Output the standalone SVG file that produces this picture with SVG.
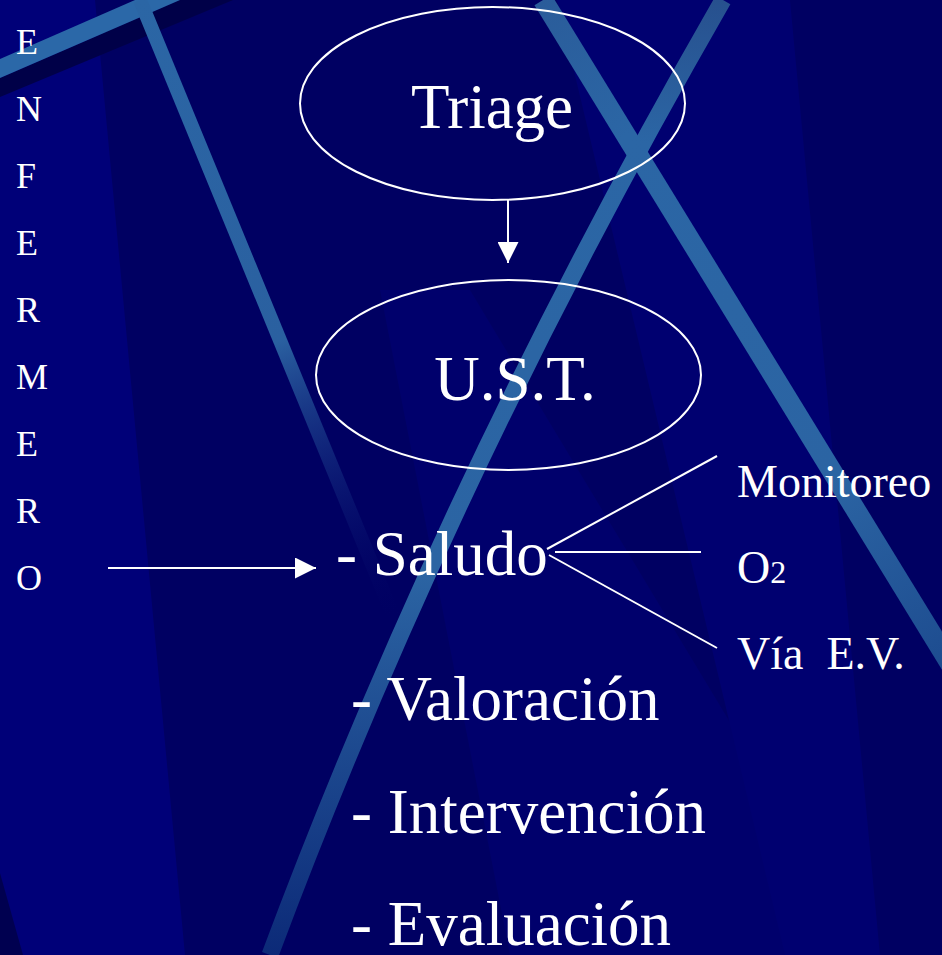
<svg xmlns="http://www.w3.org/2000/svg" width="942" height="955" viewBox="0 0 942 955">
<defs>
<style>
text{fill:#ffffff}
.big{font-size:63px}
.mid{font-size:46px}
.v{font-size:36px}
.ln{stroke:#ffffff;stroke-width:2;fill:none}
.node{stroke:#ffffff;stroke-width:2;fill:none}
.stripe{fill:none;stroke-linecap:butt}
</style>
<marker id="ah" markerUnits="userSpaceOnUse" markerWidth="21" markerHeight="21" refX="10" refY="5" orient="auto" viewBox="0 0 10 10">
<path d="M0,0 L10,5 L0,10 Z" fill="#ffffff"/>
</marker>
<linearGradient id="g3" gradientUnits="userSpaceOnUse" x1="0" y1="0" x2="0" y2="955">
<stop offset="0" stop-color="#27508e"/>
<stop offset="0.15" stop-color="#2b66a5"/>
<stop offset="0.6" stop-color="#2b64a3"/>
<stop offset="1" stop-color="#0c2a78"/>
</linearGradient>
<linearGradient id="g4" gradientUnits="userSpaceOnUse" x1="543" y1="0" x2="960" y2="680">
<stop offset="0" stop-color="#2a5c9a"/>
<stop offset="0.2" stop-color="#2b66a5"/>
<stop offset="0.7" stop-color="#2b64a3"/>
<stop offset="1" stop-color="#1c4a8e"/>
</linearGradient>
<linearGradient id="g2" gradientUnits="userSpaceOnUse" x1="140" y1="0" x2="395" y2="620">
<stop offset="0" stop-color="#2b66a5"/>
<stop offset="0.55" stop-color="#2a60a0"/>
<stop offset="1" stop-color="#000066" stop-opacity="0"/>
</linearGradient>
</defs>

<g id="background">
<rect x="0" y="0" width="942" height="955" fill="#000062"/>
<polygon points="0,0 95,0 185,955 0,955" fill="#000078"/>
<polygon points="380,290 470,290 870,955 510,955" fill="#00006c"/>
<polygon points="557,0 790,0 880,955 785,955" fill="#000070"/>
<polygon points="0,873 23,955 0,955" fill="#000050"/>
<polygon points="0,78 180,0 233,0 0,97" fill="#000048"/>
<polygon points="0,59 135,0 180,0 0,78" fill="#2b68a8"/>
<line class="stripe" x1="140" y1="0" x2="395" y2="620" stroke="url(#g2)" stroke-width="14"/>
<path class="stripe" d="M723,0 Q448,478 270,955" stroke="url(#g3)" stroke-width="17"/>
<line class="stripe" x1="543" y1="0" x2="960" y2="680" stroke="url(#g4)" stroke-width="20"/>
</g>

<g id="connectors">
<line class="ln" x1="508" y1="200" x2="508" y2="263" marker-end="url(#ah)"/>
<line class="ln" x1="108" y1="568" x2="316" y2="568" marker-end="url(#ah)"/>
<line class="ln" x1="547" y1="549" x2="717" y2="456"/>
<line class="ln" x1="555" y1="552" x2="701" y2="552"/>
<line class="ln" x1="549" y1="555" x2="717" y2="648"/>
</g>

<g font-family="Liberation Serif, DejaVu Serif, serif">
<g id="enfermero">
<text class="v" x="16" y="54">E</text>
<text class="v" x="16" y="121">N</text>
<text class="v" x="16" y="188">F</text>
<text class="v" x="16" y="255">E</text>
<text class="v" x="16" y="322">R</text>
<text class="v" x="16" y="389">M</text>
<text class="v" x="16" y="456">E</text>
<text class="v" x="16" y="523">R</text>
<text class="v" x="16" y="590">O</text>
</g>

<g id="triage">
<ellipse class="node" cx="492.5" cy="103.5" rx="192.5" ry="96.5"/>
<text class="big" x="492" y="128" text-anchor="middle">Triage</text>
</g>

<g id="ust">
<ellipse class="node" cx="508.5" cy="375" rx="192.5" ry="95"/>
<text class="big" x="515" y="400" text-anchor="middle">U.S.T.</text>
</g>

<g id="saludo">
<text class="big" x="336" y="575">- Saludo</text>
</g>

<g id="monitoreo">
<text class="mid" x="737" y="497">Monitoreo</text>
</g>

<g id="o2">
<text class="mid" x="737" y="583">O<tspan font-size="32">2</tspan></text>
</g>

<g id="via-ev">
<text class="mid" x="737" y="669" xml:space="preserve" style="white-space:pre">Vía  E.V.</text>
</g>

<g id="valoracion">
<text class="big" x="351" y="720">- Valoración</text>
</g>

<g id="intervencion">
<text class="big" x="351" y="833">- Intervención</text>
</g>

<g id="evaluacion">
<text class="big" x="351" y="945">- Evaluación</text>
</g>
</g>
</svg>
